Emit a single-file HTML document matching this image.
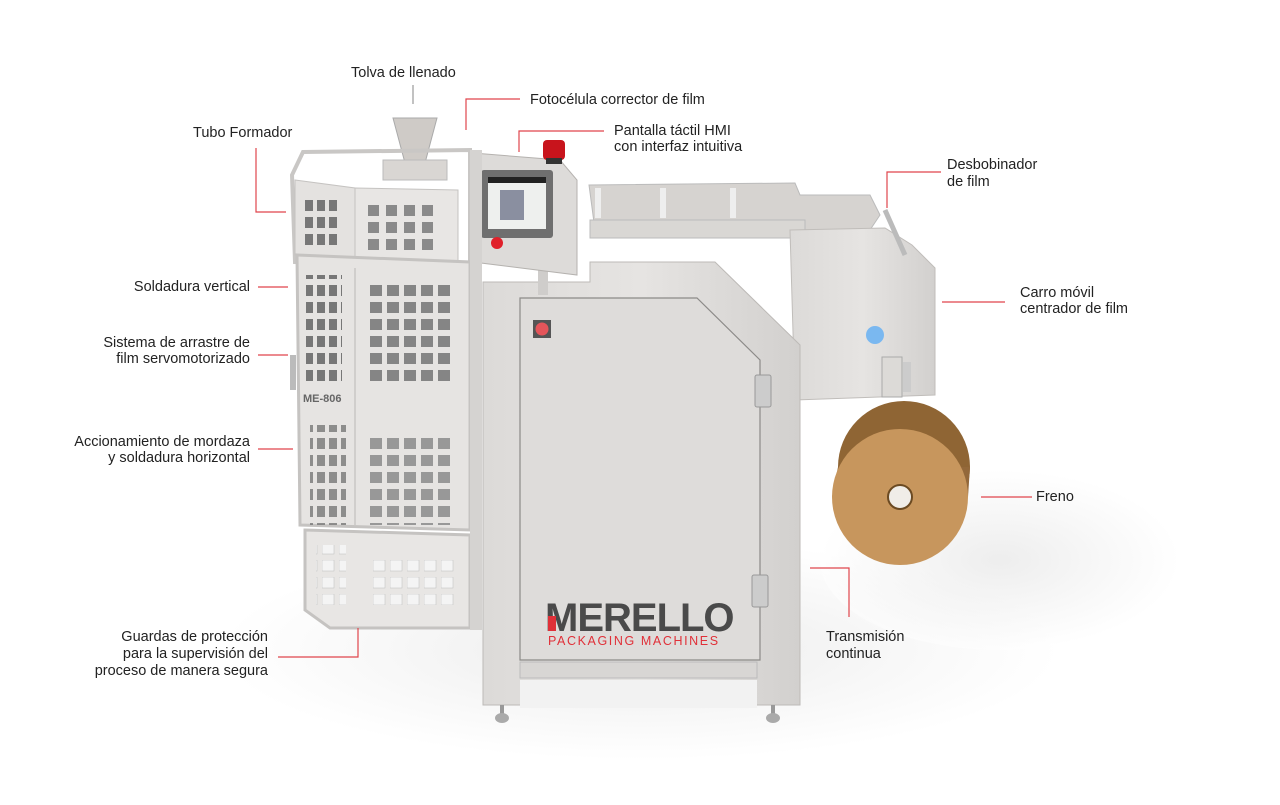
<!DOCTYPE html>
<html><head><meta charset="utf-8"><style>
html,body{margin:0;padding:0;background:#fff;}
body{width:1280px;height:800px;overflow:hidden;}
svg text{font-family:"Liberation Sans",sans-serif;font-size:14.5px;fill:#222;}
</style></head><body>
<svg width="1280" height="800" viewBox="0 0 1280 800" xmlns="http://www.w3.org/2000/svg">
<defs>
<radialGradient id="sh" cx="0.5" cy="0.5" r="0.5">
<stop offset="0" stop-color="#d8d8d8"/><stop offset="0.6" stop-color="#f0f0f0"/><stop offset="1" stop-color="#fff"/></radialGradient>
<linearGradient id="steel" x1="0" x2="1"><stop offset="0" stop-color="#dcdad8"/><stop offset="0.5" stop-color="#e6e4e2"/><stop offset="1" stop-color="#d2d0ce"/></linearGradient>
<pattern id="h1" x="368" y="205" width="18" height="17" patternUnits="userSpaceOnUse"><rect width="11" height="11" fill="#8a8a8a"/></pattern>
<pattern id="h2" x="305" y="200" width="12" height="17" patternUnits="userSpaceOnUse"><rect width="8" height="11" fill="#777"/></pattern>
<pattern id="h3" x="370" y="285" width="17" height="17" patternUnits="userSpaceOnUse"><rect width="12" height="11" fill="#858585"/></pattern>
<pattern id="h4" x="373" y="560" width="17" height="17" patternUnits="userSpaceOnUse"><rect width="12" height="11" fill="#f4f4f4" stroke="#bbb" stroke-width="0.5"/></pattern>
</defs>

<ellipse cx="640" cy="650" rx="420" ry="110" fill="url(#sh)" opacity="0.5"/>
<ellipse cx="1000" cy="560" rx="180" ry="90" fill="url(#sh)" opacity="0.45"/>

<polygon points="589,185 795,183 800,195 870,195 880,215 870,230 595,230" fill="#d6d3d0" stroke="#bbb"/>
<rect x="590" y="220" width="215" height="18" fill="#d9d7d4" stroke="#bbb"/>
<rect x="595" y="188" width="6" height="30" fill="#eee"/><rect x="660" y="188" width="6" height="30" fill="#eee"/><rect x="730" y="188" width="6" height="30" fill="#eee"/>

<polygon points="790,230 885,228 912,245 935,268 935,395 795,400" fill="url(#steel)" stroke="#c0bdba"/>
<circle cx="875" cy="335" r="9" fill="#7ab8f0"/>
<rect x="882" y="357" width="20" height="40" fill="#dcdad7" stroke="#aaa"/>
<rect x="903" y="362" width="8" height="30" fill="#ccc"/>
<line x1="885" y1="210" x2="905" y2="255" stroke="#bbb" stroke-width="5"/>

<polygon points="590,262 715,262 800,345 800,705 483,705 483,282 590,282" fill="url(#steel)" stroke="#bdbab7"/>
<polygon points="520,298 697,298 760,360 760,660 520,660" fill="#dedcda" stroke="#8c8a88" stroke-width="1.2"/>
<rect x="520" y="662" width="237" height="16" fill="#d8d6d4" stroke="#bbb"/>
<rect x="520" y="680" width="237" height="28" fill="#f2f2f2"/>
<rect x="500" y="705" width="4" height="10" fill="#999"/><ellipse cx="502" cy="718" rx="7" ry="5" fill="#aaa"/>
<rect x="771" y="705" width="4" height="10" fill="#999"/><ellipse cx="773" cy="718" rx="7" ry="5" fill="#aaa"/>
<rect x="755" y="375" width="16" height="32" rx="2" fill="#ccc" stroke="#999"/>
<rect x="752" y="575" width="16" height="32" rx="2" fill="#ccc" stroke="#999"/>
<rect x="533" y="320" width="18" height="18" fill="#555"/><circle cx="542" cy="329" r="6.5" fill="#e5555a"/>
<text x="545" y="631" style="font-size:40px;font-weight:bold;fill:#4a4a4a;letter-spacing:-1px">MERELLO</text>
<rect x="548" y="616" width="8" height="15" fill="#e03038"/>
<text x="548" y="645" style="font-size:12.5px;fill:#e03038;letter-spacing:1.6px">PACKAGING MACHINES</text>

<rect x="538" y="265" width="10" height="30" fill="#cfcdcb"/>
<polygon points="473,153 560,160 577,180 577,275 473,262" fill="#dddbd9" stroke="#b5b2af"/>
<rect x="481" y="170" width="72" height="68" rx="3" fill="#6f6f6f"/>
<rect x="488" y="177" width="58" height="52" fill="#eef0ee"/>
<rect x="488" y="177" width="58" height="6" fill="#222"/>
<rect x="500" y="190" width="24" height="30" fill="#8a8fa0"/>
<circle cx="497" cy="243" r="6" fill="#e0202a"/>
<rect x="543" y="140" width="22" height="20" rx="4" fill="#c8141c"/><rect x="546" y="158" width="16" height="6" fill="#333"/>

<polygon points="393,118 437,118 425,163 405,163" fill="#cfcbc7" stroke="#aaa"/>
<rect x="383" y="160" width="64" height="20" fill="#d9d6d3" stroke="#bbb"/>

<polygon points="303,152 470,150 470,265 295,262 292,175" fill="none" stroke="#c9c7c5" stroke-width="4"/>
<polygon points="295,180 355,188 355,262 295,255" fill="#e4e2e0" stroke="#c5c3c1"/>
<polygon points="355,188 458,190 458,262 355,262" fill="#e8e6e4" stroke="#c5c3c1"/>
<rect x="368" y="205" width="72" height="45" fill="url(#h1)"/>
<rect x="305" y="200" width="36" height="45" fill="url(#h2)"/>
<polygon points="297,255 470,262 470,530 300,525" fill="#e6e4e2" stroke="#c5c3c1" stroke-width="3"/>
<line x1="355" y1="268" x2="355" y2="525" stroke="#d0cecc" stroke-width="2"/>
<rect x="370" y="285" width="85" height="96" fill="url(#h3)"/>
<rect x="370" y="435" width="85" height="90" fill="url(#h3)" opacity="0.8"/>
<rect x="306" y="275" width="36" height="110" fill="url(#h2)"/>
<rect x="310" y="425" width="36" height="100" fill="url(#h2)" opacity="0.8"/>
<text x="303" y="402" style="font-size:11px;font-weight:bold;fill:#666">ME-806</text>
<rect x="290" y="355" width="6" height="35" fill="#bbb"/>
<polygon points="305,530 470,535 470,628 330,628 305,610" fill="#e8e6e4" stroke="#c5c3c1" stroke-width="3"/>
<rect x="373" y="560" width="85" height="45" fill="url(#h4)"/>
<rect x="316" y="545" width="30" height="60" fill="url(#h4)"/>
<rect x="470" y="150" width="12" height="480" fill="#d5d3d1"/>

<!-- roll -->
<circle cx="904" cy="467" r="66" fill="#8f6534"/>
<polygon points="838,467 832,497 968,497 970,467" fill="#93683a"/>
<circle cx="900" cy="497" r="68" fill="#c7965d"/>
<circle cx="900" cy="497" r="12" fill="#f0ede8" stroke="#6b4a22" stroke-width="2"/>

<g fill="none" stroke="#e0454c" stroke-width="1.2">
<polyline points="256,148 256,212 286,212"/>
<polyline points="520,99 466,99 466,130"/>
<polyline points="604,131 519,131 519,152"/>
<polyline points="941,172 887,172 887,208"/>
<line x1="942" y1="302" x2="1005" y2="302"/>
<line x1="981" y1="497" x2="1032" y2="497"/>
<polyline points="810,568 849,568 849,617"/>
<line x1="258" y1="287" x2="288" y2="287"/>
<line x1="258" y1="355" x2="288" y2="355"/>
<line x1="258" y1="449" x2="293" y2="449"/>
<polyline points="278,657 358,657 358,628"/>
</g>
<line x1="413" y1="85" x2="413" y2="104" stroke="#999" stroke-width="1.2"/>

<text x="351" y="77">Tolva de llenado</text>
<text x="193" y="137">Tubo Formador</text>
<text x="530" y="104">Fotocélula corrector de film</text>
<text x="614" y="135">Pantalla táctil HMI</text>
<text x="614" y="151">con interfaz intuitiva</text>
<text x="947" y="169">Desbobinador</text>
<text x="947" y="186">de film</text>
<text x="1020" y="297">Carro móvil</text>
<text x="1020" y="313">centrador de film</text>
<text x="1036" y="501">Freno</text>
<text x="826" y="641">Transmisión</text>
<text x="826" y="658">continua</text>
<g text-anchor="end">
<text x="250" y="291">Soldadura vertical</text>
<text x="250" y="347">Sistema de arrastre de</text>
<text x="250" y="363">film servomotorizado</text>
<text x="250" y="446">Accionamiento de mordaza</text>
<text x="250" y="462">y soldadura horizontal</text>
<text x="268" y="641">Guardas de protección</text>
<text x="268" y="658">para la supervisión del</text>
<text x="268" y="675">proceso de manera segura</text>
</g>
</svg>
</body></html>
